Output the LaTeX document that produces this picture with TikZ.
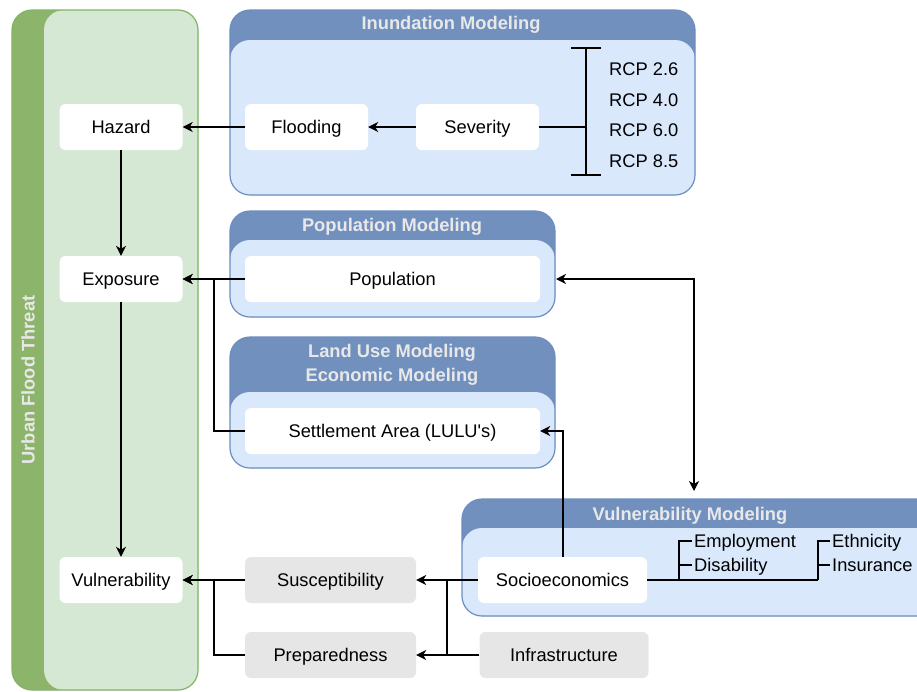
\documentclass[tikz,border=0pt]{standalone}
\usepackage{fontspec}
\setmainfont{Liberation Sans}
\usetikzlibrary{arrows.meta}
\definecolor{gfill}{HTML}{D5E8D4}
\definecolor{gdark}{HTML}{8DB46B}
\definecolor{gline}{HTML}{82B366}
\definecolor{bfill}{HTML}{DAE8FC}
\definecolor{bdark}{HTML}{7190BE}
\definecolor{bline}{HTML}{6C8EBF}
\definecolor{grayfill}{HTML}{E6E6E6}
\definecolor{htext}{HTML}{E8E8E8}
\newcommand\lane[5]{%
  \fill[bdark, rounded corners=20] (#1,#2) rectangle (#3,#4);
  \fill[bfill, rounded corners=20] (#1,#5) rectangle (#3,#4);
  \draw[bline, line width=1.2, rounded corners=20] (#1,#2) rectangle (#3,#4);}
\tikzset{
  txt/.style={font=\fontsize{18.3}{22}\selectfont, text=black, inner sep=0, text height=13, text depth=0},
  box/.style={rectangle, rounded corners=6, fill=white, minimum width=123, minimum height=46, txt},
  gbox/.style={box, fill=grayfill},
  title/.style={font=\fontsize{18.3}{24}\selectfont\bfseries, text=htext, inner sep=0, align=center},
  conn/.style={line width=1.3, black},
  arr/.style={conn, -{Stealth[length=10, width=10, inset=3]}},
  darr/.style={conn, {Stealth[length=10, width=10, inset=3]}-{Stealth[length=10, width=10, inset=3]}},
}
\begin{document}
\begin{tikzpicture}[x=1pt, y=-1pt]
\useasboundingbox (0,0) rectangle (917,691);
\clip (0,0) rectangle (917,691);
% green container
\fill[gdark, rounded corners=20] (12,10) rectangle (198,690);
\fill[gfill, rounded corners=20] (44,10) rectangle (198,690);
\draw[gline, line width=1.2, rounded corners=20] (12,10) rectangle (198,690);
\node[title, rotate=90] (uft) at (28,380) {Urban Flood Threat};
% blue containers
\lane{230}{10}{695}{195}{40}
\node[title] (tinund) at (451,25) {Inundation Modeling};
\lane{230}{211}{555}{317}{240}
\node[title] (tpop) at (392,227) {Population Modeling};
\lane{230}{337}{555}{468}{392}
\node[title] (tland) at (392,365) {Land Use Modeling\\Economic Modeling};
\lane{462}{499}{945}{616}{528}
\node[title] (tvul) at (690,516) {Vulnerability Modeling};
% nodes
\node[box] (haz) at (121,127) {Hazard};
\node[box] (exp) at (121,279) {Exposure};
\node[box] (vul) at (121,580) {Vulnerability};
\node[box] (flood) at (306.5,127) {Flooding};
\node[box] (sev) at (477.5,127) {Severity};
\node[box, minimum width=295] (pop) at (392.5,279) {Population};
\node[box, minimum width=295] (sett) at (392.5,431) {Settlement Area (LULU\textquotesingle s)};
\node[box, minimum width=169] (socio) at (562.5,580) {Socioeconomics};
\node[gbox, minimum width=171] (susc) at (330.5,580) {Susceptibility};
\node[gbox, minimum width=171] (prep) at (330.5,655) {Preparedness};
\node[gbox, minimum width=169] (infra) at (564,655) {Infrastructure};
% RCP list
\node[txt, anchor=west] (r1) at (609,69) {RCP 2.6};
\node[txt, anchor=west] (r2) at (609,100) {RCP 4.0};
\node[txt, anchor=west] (r3) at (609,130) {RCP 6.0};
\node[txt, anchor=west] (r4) at (609,161) {RCP 8.5};
\coordinate (bt) at (586,48);
\coordinate (bb) at (586,175);
\draw[conn] ([xshift=-15]bt) -- ([xshift=15]bt);
\draw[conn] ([xshift=-15]bb) -- ([xshift=15]bb);
\draw[conn] (bt) -- (bb);
\draw[conn] (sev.east) -- (sev.east -| bt);
% socioeconomic factors
\node[txt, anchor=west] (emp) at (694,541) {Employment};
\node[txt, anchor=west] (dis) at (694,565) {Disability};
\node[txt, anchor=west] (eth) at (832,541) {Ethnicity};
\node[txt, anchor=west] (ins) at (832,565) {Insurance};
\coordinate (s1) at (679,580);
\coordinate (s2) at (818,580);
\draw[conn] (socio.east) -- (s2);
\draw[conn] (s1) -- (s1 |- emp.west) -- ([xshift=-2]emp.west);
\draw[conn] (s1 |- dis.west) -- ([xshift=-2]dis.west);
\draw[conn] (s2) -- (s2 |- eth.west) -- ([xshift=-2]eth.west);
\draw[conn] (s2 |- ins.west) -- ([xshift=-2]ins.west);
% connectors
\coordinate (j1) at (214,0);
\coordinate (j2) at (447,0);
\draw[arr] (flood.west) -- (haz.east);
\draw[arr] (sev.west) -- (flood.east);
\draw[arr] (haz.south) -- (exp.north);
\draw[arr] (exp.south) -- (vul.north);
\draw[arr] (pop.west) -- (exp.east);
\draw[arr] (sett.west) -| (j1 |- exp.east) -- (exp.east);
\draw[arr] (susc.west) -- (vul.east);
\draw[arr] (prep.west) -| (j1 |- vul.east) -- (vul.east);
\draw[arr] (socio.west) -- (susc.east);
\draw[arr] (infra.west) -- (prep.east);
\draw[conn] (j2 |- socio.west) -- (j2 |- infra.west);
\draw[arr] ([xshift=0.5]socio.north) |- (sett.east);
\coordinate (pr) at (556,279);
\coordinate (vt) at (694,491);
\draw[darr] (pr) -| (vt);
\end{tikzpicture}
\end{document}
